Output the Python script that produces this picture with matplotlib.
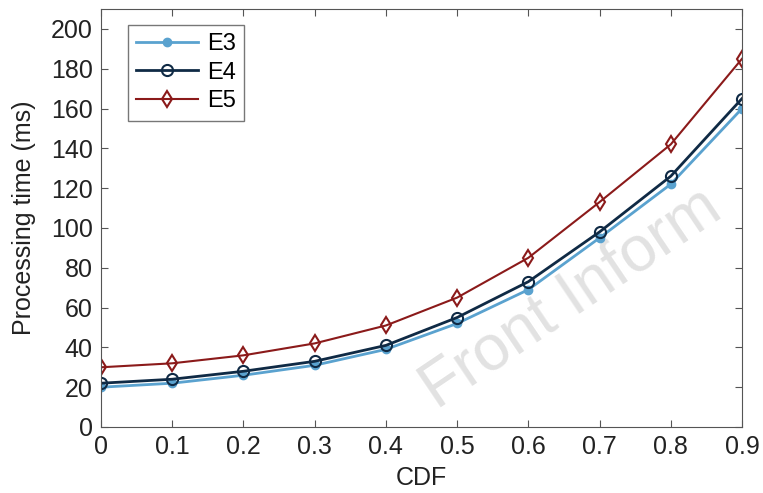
import matplotlib
matplotlib.use("Agg")
import matplotlib.pyplot as plt

plt.rcParams["font.family"] = ["Liberation Sans", "DejaVu Sans"]

# datos
cdf = [0, 0.1, 0.2, 0.3, 0.4, 0.5, 0.6, 0.7, 0.8, 0.9]
e3 = [20, 22, 26, 31, 39, 52, 69, 95, 122, 160]
e4 = [22, 24, 28, 33, 41, 55, 73, 98, 126, 165]
e5 = [30, 32, 36, 42, 51, 65, 85, 113, 142, 185]
xticks = [0, 0.1, 0.2, 0.3, 0.4, 0.5, 0.6, 0.7, 0.8, 0.9]
xtick_labels = ["0", "0.1", "0.2", "0.3", "0.4", "0.5", "0.6", "0.7", "0.8", "0.9"]
yticks = list(range(0, 201, 20))

fig = plt.figure(figsize=(7.63, 4.93), dpi=100)
ax = fig.add_axes([101 / 763, 1 - 427 / 493, 641 / 763, 418 / 493])
ax.set_zorder(2)
ax.patch.set_alpha(0)

# marca de agua (queda detras de las curvas)
fig.text(437 / 763, 1 - 410 / 493, "Front Inform", fontsize=46, color="#e2e2e2",
         rotation=34, rotation_mode="anchor", ha="left", va="baseline", zorder=0)

ax.plot(cdf, e3, color="#5aa2cf", lw=2, marker="o", ms=6, mfc="#5aa2cf", mec="#5aa2cf", label="E3")
ax.plot(cdf, e4, color="#0f2a45", lw=2, marker="o", ms=8, mfc="none", mec="#0f2a45", mew=1.5, label="E4")
ax.plot(cdf, e5, color="#8b1a1a", lw=1.5, marker="d", ms=8, mfc="none", mec="#8b1a1a", mew=1.5, label="E5")

ax.set_xlim(0, 0.9)
ax.set_ylim(0, 210)
ax.set_xticks(xticks)
ax.set_xticklabels(xtick_labels)
ax.set_yticks(yticks)
ax.tick_params(labelsize=18, direction="in", length=5, color="#555555", top=True, right=True,
               labelcolor="#222222", pad=6)
for s in ax.spines.values():
    s.set_color("#555555")
ax.set_xlabel("CDF", fontsize=18, color="#222222", labelpad=5)
ax.set_ylabel("Processing time (ms)", fontsize=18, color="#222222", labelpad=11)

leg = ax.legend(loc="upper left", bbox_to_anchor=(0.042, 0.962), borderaxespad=0,
                fontsize=17, frameon=True, fancybox=False, edgecolor="#555555",
                handlelength=2.6, borderpad=0.35, labelspacing=0.28, handletextpad=0.4)
leg.get_frame().set_linewidth(1)

fig.savefig("out.png", dpi=100)
